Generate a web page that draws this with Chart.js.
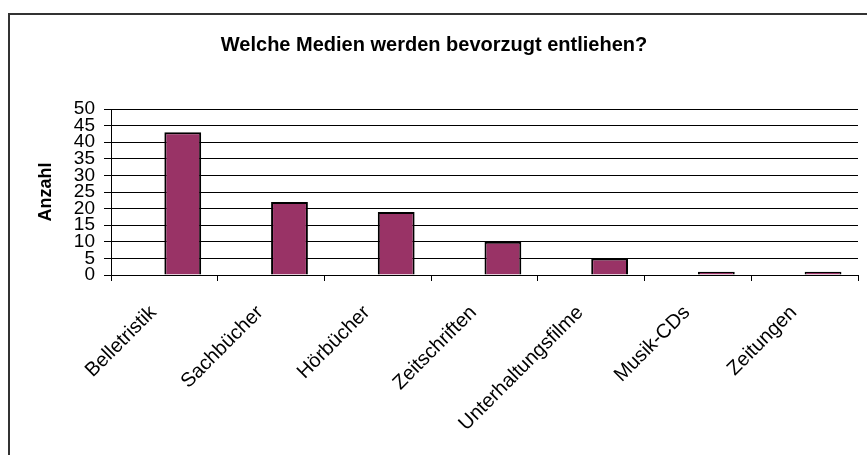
<!DOCTYPE html>
<html lang="de">
<head>
<meta charset="utf-8">
<title>Welche Medien werden bevorzugt entliehen?</title>
<script src="https://cdn.jsdelivr.net/npm/chart.js@4"></script>
<style>
    html, body { margin: 0; padding: 0; background: #fff; overflow: hidden; }
    #rahmen {
        position: absolute;
        left: 8px;
        top: 13px;
        width: 866px;
        height: 440px;
        border-top: 2px solid #333;
        border-left: 2px solid #333;
    }
    #medienChart { display: block; }
</style>
</head>
<body>
<div id="rahmen">
    <canvas id="medienChart" width="866" height="440"></canvas>
</div>
<script>
const kategorien = ['Belletristik', 'Sachbücher', 'Hörbücher', 'Zeitschriften', 'Unterhaltungsfilme', 'Musik-CDs', 'Zeitungen'];
// leere erste Reihe (im Original vorhanden, ohne Werte)
const leereReihe = [null, null, null, null, null, null, null];
const anzahl = [43, 22, 19, 10, 5, 1, 1];
const yTicks = [0, 5, 10, 15, 20, 25, 30, 35, 40, 45, 50];

Chart.defaults.font.family = '"Liberation Sans", Arial, sans-serif';
Chart.defaults.color = '#000';

const ctx = document.getElementById('medienChart').getContext('2d');

new Chart(ctx, {
    type: 'bar',
    data: {
        labels: kategorien,
        datasets: [
            {
                label: '',
                data: leereReihe,
                backgroundColor: '#9999ff'
            },
            {
                label: 'Anzahl',
                data: anzahl,
                backgroundColor: '#993366',
                borderColor: '#000',
                borderWidth: 2
            }
        ]
    },
    options: {
        responsive: false,
        animation: false,
        layout: { padding: { left: 0, right: 18, top: 0, bottom: 0 } },
        datasets: {
            bar: { categoryPercentage: 0.69, barPercentage: 1 }
        },
        plugins: {
            legend: { display: false },
            tooltip: { enabled: false },
            title: {
                display: true,
                text: 'Welche Medien werden bevorzugt entliehen?',
                font: { size: 20, weight: 'bold' },
                color: '#000',
                padding: { top: 18, bottom: 52 }
            }
        },
        scales: {
            x: {
                grid: {
                    offset: true,
                    drawOnChartArea: false,
                    drawTicks: true,
                    tickLength: 6,
                    color: '#000'
                },
                border: { color: '#000', width: 1 },
                ticks: {
                    minRotation: 45,
                    maxRotation: 45,
                    autoSkip: false,
                    padding: 20,
                    labelOffset: -11,
                    font: { size: 20 }
                },
                afterFit: function (scale) { scale.height = 180; }
            },
            y: {
                min: 0,
                max: 50,
                afterBuildTicks: function (scale) {
                    scale.ticks = yTicks.map(v => ({ value: v }));
                },
                grid: {
                    color: '#000',
                    tickLength: 7,
                    lineWidth: 1
                },
                border: { color: '#000', width: 1 },
                ticks: {
                    autoSkip: false,
                    padding: 9,
                    font: { size: 19, lineHeight: 1 }
                },
                title: {
                    display: true,
                    text: 'Anzahl',
                    font: { size: 18, weight: 'bold' },
                    padding: { top: 25, bottom: 0 }
                },
                afterFit: function (scale) { scale.width = 101; }
            }
        }
    }
});
</script>
</body>
</html>
